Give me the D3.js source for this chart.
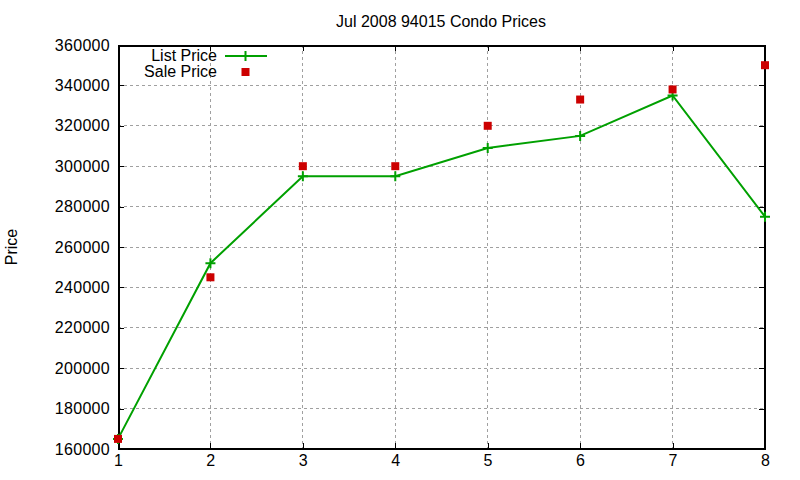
<!DOCTYPE html>
<html><head><meta charset="utf-8">
<script src="https://cdn.jsdelivr.net/npm/d3@7"></script>
<style>body{margin:0;background:#fff}text{font-family:"Liberation Sans",Arial,sans-serif;font-size:16px;fill:#000}</style>
</head><body><svg id="c" width="800" height="480"></svg>
<script>
const months = [1,2,3,4,5,6,7,8];
const listPrice = [165000,252000,295000,295000,309000,315000,335000,275000];
const salePrice = [165000,245000,300000,300000,320000,333000,338000,350000];
const yTicks = [160000,180000,200000,220000,240000,260000,280000,300000,320000,340000,360000];
const title = "Jul 2008 94015 Condo Prices";
const yLabel = "Price";
const seriesNames = ["List Price","Sale Price"];

const svg = d3.select("#c");
const L=118,R=765,T=45,B=449;
const x = d3.scaleLinear().domain([1,8]).range([L,R]);
const y = d3.scaleLinear().domain([160000,360000]).range([B,T]);
const green="#00a000", red="#cc0000";

// grid
const g = svg.append("g");
g.selectAll(".gx").data(months.slice(1,-1)).join("line")
 .attr("x1",d=>x(d)).attr("x2",d=>x(d)).attr("y1",T).attr("y2",B)
 .attr("stroke","#a0a0a0").attr("stroke-dasharray","3,3").attr("shape-rendering","crispEdges");
g.selectAll(".gy").data(yTicks.slice(1,-1)).join("line")
 .attr("x1",L).attr("x2",R).attr("y1",d=>y(d)).attr("y2",d=>y(d))
 .attr("stroke","#a0a0a0").attr("stroke-dasharray","3,3").attr("shape-rendering","crispEdges");

// axes
const ax = svg.append("g").attr("transform",`translate(0,${B})`)
 .call(d3.axisBottom(x).tickValues(months).tickFormat(d3.format("d")).tickSize(-6).tickPadding(6));
const axT = svg.append("g").attr("transform",`translate(0,${T})`)
 .call(d3.axisTop(x).tickValues(months).tickFormat("").tickSize(-6));
const ay = svg.append("g").attr("transform",`translate(${L},0)`)
 .call(d3.axisLeft(y).tickValues(yTicks).tickFormat(d3.format("d")).tickSize(-6).tickPadding(8));
const ayR = svg.append("g").attr("transform",`translate(${R},0)`)
 .call(d3.axisRight(y).tickValues(yTicks).tickFormat("").tickSize(-6));
[ax,axT,ay,ayR].forEach(a=>{
  a.select(".domain").remove();
  a.selectAll(".tick line").attr("stroke","#000").attr("shape-rendering","crispEdges");
  a.selectAll("text").attr("font-family",null).attr("font-size",null).style("letter-spacing","0.3px");
});
svg.append("rect").attr("x",L+0.5).attr("y",T+0.5).attr("width",R-L-1).attr("height",B-T-1)
 .attr("fill","none").attr("stroke","#000").attr("stroke-width",2).attr("shape-rendering","crispEdges");

// list line
svg.append("path").datum(months.map((m,i)=>[m,listPrice[i]]))
 .attr("d",d3.line().x(d=>x(d[0])).y(d=>y(d[1])))
 .attr("fill","none").attr("stroke",green).attr("stroke-width",2);
const plus = (sel,cx,cy)=>sel.append("path").attr("d",`M${cx-5},${cy}H${cx+5}M${cx},${cy-5}V${cy+5}`)
 .attr("stroke",green).attr("stroke-width",2);
months.forEach((m,i)=>plus(svg,x(m),y(listPrice[i])));
// sale points
svg.selectAll(".sq").data(months).join("rect")
 .attr("x",(d,i)=>x(d)-4).attr("y",(d,i)=>y(salePrice[i])-4).attr("width",8).attr("height",8).attr("fill",red);

// title & labels
svg.append("text").attr("x",441).attr("y",27).attr("text-anchor","middle").text(title);
svg.append("text").attr("transform","translate(17,247) rotate(-90)").attr("text-anchor","middle").text(yLabel);

// legend
svg.append("text").attr("x",217).attr("y",61).attr("text-anchor","end").text(seriesNames[0]);
svg.append("line").attr("x1",225).attr("x2",267).attr("y1",56).attr("y2",56).attr("stroke",green).attr("stroke-width",2);
plus(svg,245.5,56);
svg.append("text").attr("x",217).attr("y",77).attr("text-anchor","end").text(seriesNames[1]);
svg.append("rect").attr("x",241.5).attr("y",68).attr("width",8).attr("height",8).attr("fill",red);
</script></body></html>
